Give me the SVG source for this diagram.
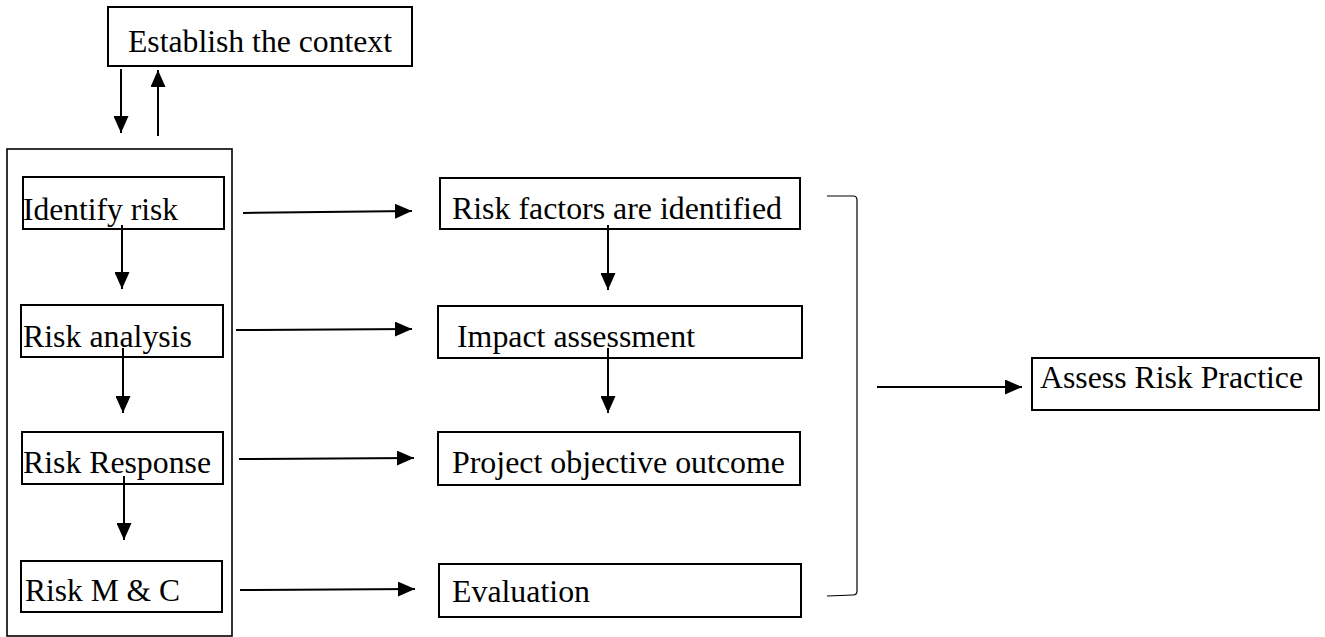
<svg xmlns="http://www.w3.org/2000/svg" width="1325" height="637" viewBox="0 0 1325 637">
<style>
.box{fill:#fff;stroke:#000;stroke-width:2}
.outer{fill:none;stroke:#000;stroke-width:1.6}
.t{font-family:'Liberation Serif','Times New Roman',serif;font-size:31px;fill:#000}
.c{stroke:#000;stroke-width:2;fill:none}
.br{stroke:#000;stroke-width:1.2;fill:none}
</style>
<defs>
<marker id="ah" markerUnits="userSpaceOnUse" markerWidth="17" markerHeight="15" refX="17" refY="7.5" orient="auto">
<path d="M0,0 L17,7.5 L0,15 z" fill="#000"/>
</marker>
</defs>
<rect width="1325" height="637" fill="#fff"/>
<g id="outer-group"><rect class="outer" x="7" y="149" width="225" height="487"/></g>
<g id="n-context"><rect class="box" x="108" y="7" width="304" height="59"/><text class="t" x="128" y="52" textLength="264" lengthAdjust="spacingAndGlyphs">Establish the context</text></g>
<g id="n-identify"><rect class="box" x="23" y="177" width="201" height="52"/><text class="t" x="23" y="220" textLength="155" lengthAdjust="spacingAndGlyphs">Identify risk</text></g>
<g id="n-analysis"><rect class="box" x="21" y="305" width="202" height="52"/><text class="t" x="23" y="347" textLength="169" lengthAdjust="spacingAndGlyphs">Risk analysis</text></g>
<g id="n-response"><rect class="box" x="22" y="432" width="201" height="52"/><text class="t" x="23" y="473" textLength="188" lengthAdjust="spacingAndGlyphs">Risk Response</text></g>
<g id="n-mc"><rect class="box" x="21" y="561" width="201" height="51"/><text class="t" x="25" y="601" textLength="155" lengthAdjust="spacingAndGlyphs">Risk M &amp; C</text></g>
<g id="n-factors"><rect class="box" x="440" y="178" width="360" height="51"/><text class="t" x="452" y="219" textLength="330" lengthAdjust="spacingAndGlyphs">Risk factors are identified</text></g>
<g id="n-impact"><rect class="box" x="438" y="306" width="364" height="52"/><text class="t" x="457" y="347" textLength="238" lengthAdjust="spacingAndGlyphs">Impact assessment</text></g>
<g id="n-project"><rect class="box" x="438" y="432" width="362" height="53"/><text class="t" x="452" y="473" textLength="333" lengthAdjust="spacingAndGlyphs">Project objective outcome</text></g>
<g id="n-evaluation"><rect class="box" x="439" y="564" width="362" height="53"/><text class="t" x="452" y="602" textLength="138" lengthAdjust="spacingAndGlyphs">Evaluation</text></g>
<g id="n-assess"><rect class="box" x="1032" y="358" width="287" height="52"/><text class="t" x="1040" y="388" textLength="263" lengthAdjust="spacingAndGlyphs">Assess Risk Practice</text></g>
<g id="connectors">
<line class="c" x1="121" y1="69" x2="121" y2="133" marker-end="url(#ah)"/>
<line class="c" x1="158" y1="136" x2="158" y2="70" marker-end="url(#ah)"/>
<line class="c" x1="122" y1="225" x2="122" y2="289" marker-end="url(#ah)"/>
<line class="c" x1="123" y1="348" x2="123" y2="413" marker-end="url(#ah)"/>
<line class="c" x1="124" y1="476" x2="124" y2="540" marker-end="url(#ah)"/>
<line class="c" x1="243" y1="213" x2="412" y2="211" marker-end="url(#ah)"/>
<line class="c" x1="236" y1="330" x2="412" y2="329" marker-end="url(#ah)"/>
<line class="c" x1="239" y1="459" x2="414" y2="458" marker-end="url(#ah)"/>
<line class="c" x1="240" y1="590" x2="415" y2="589" marker-end="url(#ah)"/>
<line class="c" x1="608" y1="225" x2="608" y2="290" marker-end="url(#ah)"/>
<line class="c" x1="608" y1="348" x2="608" y2="413" marker-end="url(#ah)"/>
<path class="br" d="M827,196 L853,196 Q857,196 857,200 L857,591 Q857,595 853,595 L827,596"/>
<line class="c" x1="877" y1="387" x2="1022" y2="387" marker-end="url(#ah)"/>
</g>
</svg>
